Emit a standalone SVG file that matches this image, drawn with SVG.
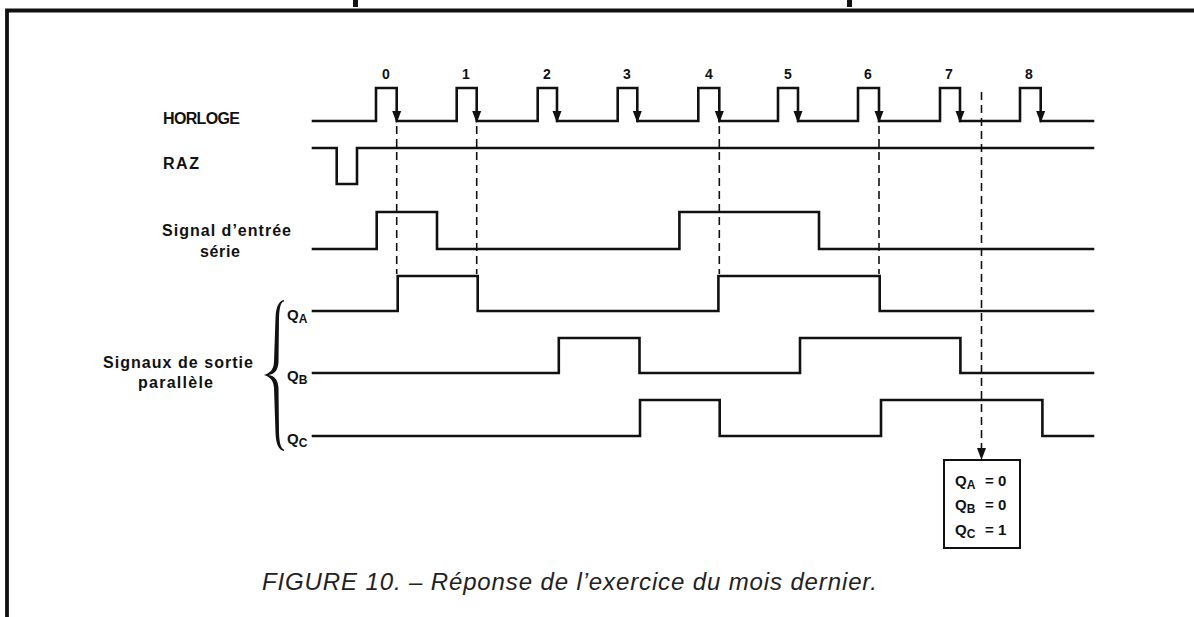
<svg xmlns="http://www.w3.org/2000/svg" xmlns:xlink="http://www.w3.org/1999/xlink" width="1194" height="617" viewBox="0 0 1194 617">
<style>
.sig{fill:none;stroke:#111;stroke-width:2.6;stroke-linejoin:miter;stroke-linecap:square}
.dash{fill:none;stroke:#111;stroke-width:1.6;stroke-dasharray:8 5}
.lbl{font-family:"Liberation Sans",Arial,sans-serif;font-weight:bold;font-size:16px;fill:#111}
.num{font-family:"Liberation Sans",Arial,sans-serif;font-weight:bold;font-size:14px;fill:#111;text-anchor:middle}
.q{font-family:"Liberation Sans",Arial,sans-serif;font-weight:bold;font-size:15px;fill:#111}
.sub{font-size:12px}
.cap{font-family:"Liberation Sans",Arial,sans-serif;font-style:italic;font-size:24px;fill:#222}
.frame{fill:none;stroke:#111;stroke-width:3.8}
</style>
<defs>
<path id="ah" d="M-4.5,-12 L4.5,-12 L0,0 Z" fill="#111"/>
</defs>
<rect width="1194" height="617" fill="#fff"/>
<g id="frame">
<path class="frame" d="M7,617 V10.5 H1194"/>
<rect x="353" y="0" width="5" height="7" fill="#111"/>
<rect x="847" y="0" width="5" height="7" fill="#111"/>
</g>
<g id="horloge">
<text class="lbl" x="163" y="124" textLength="77">HORLOGE</text>
<path class="sig" d="M313,121 H376 V88 H396.7 V121 H456.7 V88 H476.7 V121 H537.7 V88 H557 V121 H617.7 V88 H637.3 V121 H698.3 V88 H719.3 V121 H778 V88 H798 V121 H858 V88 H879 V121 H940 V88 H960 V121 H1020 V88 H1040.7 V121 H1093"/>
<use xlink:href="#ah" x="396.7" y="123"/>
<use xlink:href="#ah" x="476.7" y="123"/>
<use xlink:href="#ah" x="557" y="123"/>
<use xlink:href="#ah" x="637.3" y="123"/>
<use xlink:href="#ah" x="719.3" y="123"/>
<use xlink:href="#ah" x="798" y="123"/>
<use xlink:href="#ah" x="879" y="123"/>
<use xlink:href="#ah" x="960" y="123"/>
<use xlink:href="#ah" x="1040.7" y="123"/>
<text class="num" x="386" y="79">0</text>
<text class="num" x="466" y="79">1</text>
<text class="num" x="547" y="79">2</text>
<text class="num" x="627" y="79">3</text>
<text class="num" x="709" y="79">4</text>
<text class="num" x="788" y="79">5</text>
<text class="num" x="868" y="79">6</text>
<text class="num" x="949" y="79">7</text>
<text class="num" x="1029" y="79">8</text>
</g>
<g id="raz">
<text class="lbl" x="163" y="169" textLength="36">RAZ</text>
<path class="sig" d="M313,148 H336.7 V184 H357 V148 H1093"/>
</g>
<g id="entree">
<text class="lbl" x="162" y="236" textLength="129">Signal d’entrée</text>
<text class="lbl" x="200" y="257" textLength="40">série</text>
<path class="sig" d="M313,249 H376.7 V212 H437 V249 H679.4 V212 H819 V249 H1093"/>
</g>
<g id="sortie">
<text class="lbl" x="103" y="368" textLength="150">Signaux de sortie</text>
<text class="lbl" x="138" y="388" textLength="75">parallèle</text>
<path d="M284,300 C279,301 276,306 275.5,318 L274,362 C273.5,370 270,373 264,375 C270,377 273.5,380 274,388 L275.5,433 C276,445 279,450 284,451 L284,449.5 C281,448.5 279.5,444 279,433 L278.5,388 C278,380 275,376 268.5,375 C275,374 278,370 278.5,362 L279,318 C279.5,306 281,302 284,301.5 Z" fill="#111"/>
</g>
<g id="qa">
<text class="q" x="287" y="320">Q<tspan class="sub" dy="3">A</tspan></text>
<path class="sig" d="M313,311 H397.7 V276 H477.7 V311 H718.4 V276 H879.7 V311 H1093"/>
</g>
<g id="qb">
<text class="q" x="287" y="381">Q<tspan class="sub" dy="3">B</tspan></text>
<path class="sig" d="M313,373 H558.8 V338 H639.5 V373 H800 V338 H960.4 V373 H1093"/>
</g>
<g id="qc">
<text class="q" x="287" y="444">Q<tspan class="sub" dy="3">C</tspan></text>
<path class="sig" d="M313,436 H640 V400 H719.7 V436 H881 V400 H1042.4 V436 H1093"/>
</g>
<g id="connectors">
<line class="dash" x1="396.7" y1="126" x2="396.7" y2="274"/>
<line class="dash" x1="476.7" y1="126" x2="476.7" y2="274"/>
<line class="dash" x1="719.3" y1="126" x2="719.3" y2="274"/>
<line class="dash" x1="879" y1="126" x2="879" y2="274"/>
<line class="dash" x1="981.5" y1="92" x2="981.5" y2="448"/>
<use xlink:href="#ah" x="981.5" y="460"/>
</g>
<g id="result">
<rect x="944" y="460" width="76" height="88" fill="#fff" stroke="#111" stroke-width="2"/>
<text class="q" x="955" y="486">Q<tspan class="sub" dy="3">A</tspan><tspan x="985" dy="-3">=</tspan><tspan x="998">0</tspan></text>
<text class="q" x="955" y="510">Q<tspan class="sub" dy="3">B</tspan><tspan x="985" dy="-3">=</tspan><tspan x="998">0</tspan></text>
<text class="q" x="955" y="535">Q<tspan class="sub" dy="3">C</tspan><tspan x="985" dy="-3">=</tspan><tspan x="998">1</tspan></text>
</g>
<g id="caption">
<text class="cap" x="262" y="590" textLength="615">FIGURE 10. – Réponse de l’exercice du mois dernier.</text>
</g>
</svg>
